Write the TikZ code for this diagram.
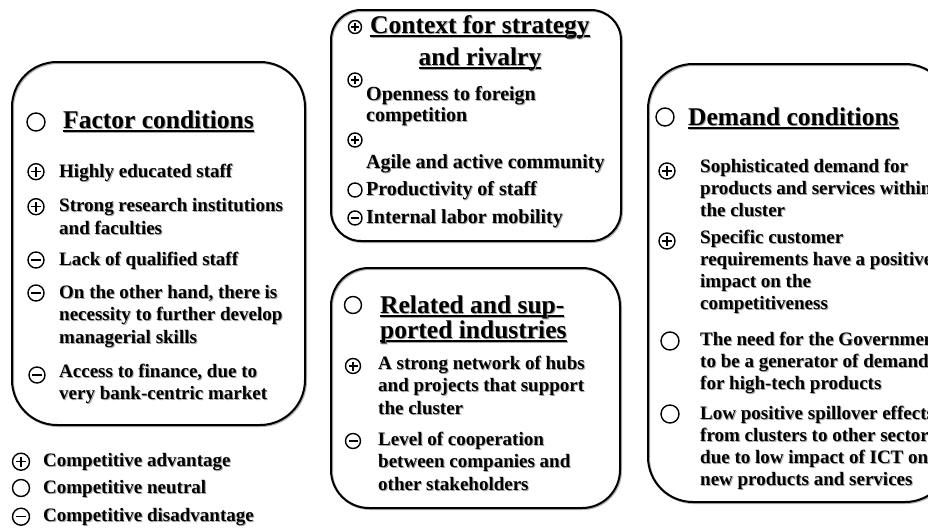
\documentclass[tikz,border=0pt]{standalone}
\usepackage{fontspec}
\setmainfont{Liberation Serif}
\newcommand\shd[1]{\makebox[0pt][l]{\kern1pt\raisebox{-1pt}{\textcolor{black!35}{#1}}}#1}
\newcommand\ulsh[1]{\setbox0\hbox{#1}\makebox[0pt][l]{\kern1pt\raisebox{-1pt}{\textcolor{black!35}{\rule[-3.5pt]{\wd0}{1.6pt}}}}\makebox[0pt][l]{\rule[-3.5pt]{\wd0}{1.6pt}}\shd{#1}}
\newcommand\itemfont{\fontsize{19}{22.5}\selectfont\bfseries}
\newcommand\itemfontm{\fontsize{20}{21}\selectfont\bfseries}
\newcommand\itemfontr{\fontsize{19}{22}\selectfont\bfseries}
\newcommand\titlefont{\fontsize{25.5}{25}\selectfont\bfseries}
\tikzset{
  symb/.style={circle, draw, line width=1.4pt, minimum size=#1*1pt, inner sep=0pt},
  plusb/.style={symb=#1, path picture={\draw[line width=1.4pt]
      (path picture bounding box.center) +(-0.3*#1,0) -- +(0.3*#1,0)
      (path picture bounding box.center) +(0,-0.3*#1) -- +(0,0.3*#1);}},
  minusb/.style={symb=#1, path picture={\draw[line width=1.4pt]
      (path picture bounding box.center) +(-0.3*#1,0) -- +(0.3*#1,0);}},
  neutb/.style={symb=#1},
  boxx/.style={draw, line width=2pt, rounded corners=#1,
      preaction={draw=black!30, line width=2pt, transform canvas={shift={(1pt,-1pt)}}}},
  txt/.style={anchor=base west, inner sep=0pt, align=left, font=\itemfont},
  txtm/.style={anchor=base west, inner sep=0pt, align=left, font=\itemfontm},
  txtr/.style={anchor=base west, inner sep=0pt, align=left, font=\itemfontr},
  ttl/.style={anchor=base west, inner sep=0pt, align=left, font=\titlefont},
}
\begin{document}
\begin{tikzpicture}[x=1pt,y=-1pt]
\useasboundingbox (0,0) rectangle (928,530);
\clip (0,0) rectangle (928,530);
\fill[white] (0,0) rectangle (928,530);

% ---------- boxes ----------
\draw[boxx=45pt] (12,62) rectangle (305,425);
\draw[boxx=30pt] (331,10) rectangle (621,241);
\draw[boxx=38pt] (331,268) rectangle (620,508);
\draw[boxx=45pt] (648,64) rectangle (950,502);

% ---------- Factor conditions ----------
% (multi-line nodes: the base anchor is the baseline of the last line)
\node[neutb=18] (f0s) at (36,122) {};
\node[ttl] (f0) at (63,128) {\ulsh{Factor conditions}};
\node[plusb=16] (f1s) at (36,171.7) {};
\node[txt] (f1) at (59,177) {\shd{Highly educated staff}};
\node[plusb=16] (f2s) at (36,206.7) {};
\node[txt] (f2) at (59,234.2) {\shd{Strong research institutions}\\\shd{and faculties}};
\node[minusb=16] (f3s) at (36,260) {};
\node[txt] (f3) at (59,265) {\shd{Lack of qualified staff}};
\node[minusb=16] (f4s) at (36,293) {};
\node[txt] (f4) at (59,343) {\shd{On the other hand, there is}\\\shd{necessity to further develop}\\\shd{managerial skills}};
\node[minusb=16] (f5s) at (37,375) {};
\node[txt] (f5) at (59,399.5) {\shd{Access to finance, due to}\\\shd{very bank-centric market}};

% ---------- legend ----------
\node[plusb=17] (l1s) at (21,461.7) {};
\node[txt] (l1) at (43,466.7) {\shd{Competitive advantage}};
\node[neutb=17] (l2s) at (21,488) {};
\node[txt] (l2) at (43,493) {\shd{Competitive neutral}};
\node[minusb=17] (l3s) at (21,516.7) {};
\node[txt] (l3) at (43,521.7) {\shd{Competitive disadvantage}};

% ---------- Context for strategy and rivalry ----------
\node[plusb=13] (c0s) at (355,27) {};
\node[ttl] (c0) at (370,33) {\ulsh{Context for strategy}};
\node[ttl, anchor=base] (c0b) at (480,65) {\ulsh{and rivalry}};
\node[plusb=14] (c1s) at (355,80) {};
\node[txtm] (c1) at (366,121) {\shd{Openness to foreign}\\\shd{competition}};
\node[plusb=14] (c2s) at (355,140) {};
\node[txtm] (c2) at (366,168) {\shd{Agile and active community}};
\node[neutb=14] (c3s) at (355,190) {};
\node[txtm] (c3) at (366,195) {\shd{Productivity of staff}};
\node[minusb=14] (c4s) at (355,218) {};
\node[txtm] (c4) at (366,223) {\shd{Internal labor mobility}};

% ---------- Related and supported industries ----------
\node[neutb=17] (r0s) at (353,305) {};
\node[ttl] (r0) at (380,338) {\ulsh{Related and sup-}\\\ulsh{ported industries}};
\node[plusb=15] (r1s) at (353,366) {};
\node[txt] (r1) at (378,414) {\shd{A strong network of hubs}\\\shd{and projects that support}\\\shd{the cluster}};
\node[minusb=15] (r2s) at (353,441) {};
\node[txt] (r2) at (378,490) {\shd{Level of cooperation}\\\shd{between companies and}\\\shd{other stakeholders}};

% ---------- Demand conditions ----------
\node[neutb=18] (d0s) at (665,117) {};
\node[ttl] (d0) at (688,125) {\ulsh{Demand conditions}};
\node[plusb=16] (d1s) at (667,171) {};
\node[txtr] (d1) at (700,216) {\shd{Sophisticated demand for}\\\shd{products and services within}\\\shd{the cluster}};
\node[plusb=16] (d2s) at (667,241) {};
\node[txtr] (d2) at (700,309) {\shd{Specific customer}\\\shd{requirements have a positive}\\\shd{impact on the}\\\shd{competitiveness}};
\node[neutb=18] (d3s) at (670,341) {};
\node[txtr] (d3) at (700,389) {\shd{The need for the Government}\\\shd{to be a generator of demand}\\\shd{for high-tech products}};
\node[neutb=18] (d4s) at (670,414) {};
\node[txtr] (d4) at (700,485) {\shd{Low positive spillover effects}\\\shd{from clusters to other sectors}\\\shd{due to low impact of ICT on}\\\shd{new products and services}};
\end{tikzpicture}
\end{document}
